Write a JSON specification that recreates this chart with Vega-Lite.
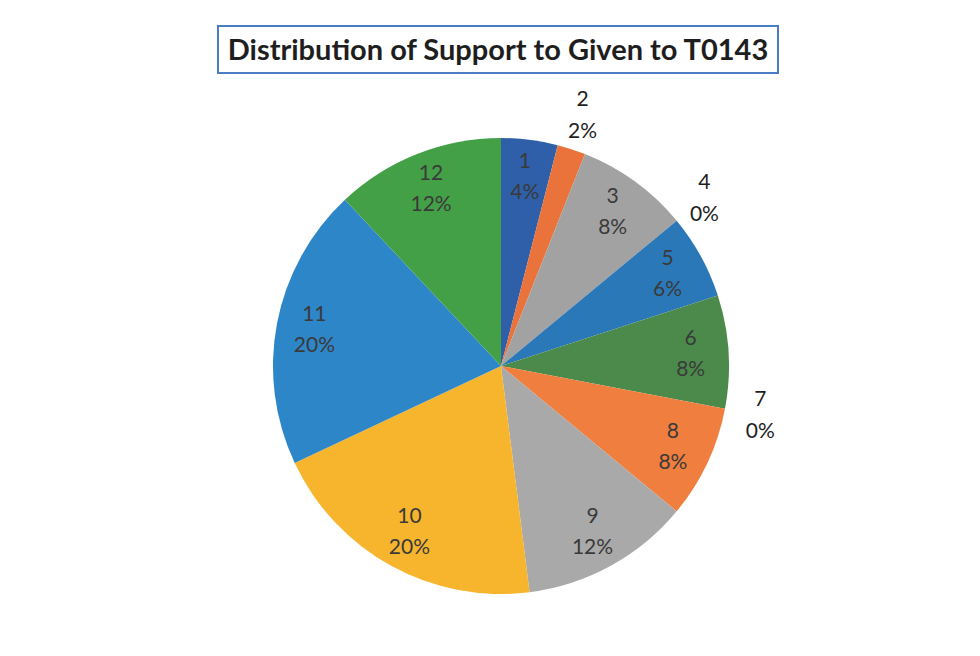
{
  "$schema": "https://vega.github.io/schema/vega-lite/v6.json",
  "background": "white",
  "padding": {"left": 217, "top": 25, "right": 0, "bottom": 0},
  "autosize": {"type": "pad"},
  "bounds": "flush",
  "spacing": 10,
  "config": {"font": "Lato"},
  "datasets": {
    "slices": [
      {"slice": 1, "share": 4},
      {"slice": 2, "share": 2},
      {"slice": 3, "share": 8},
      {"slice": 4, "share": 0},
      {"slice": 5, "share": 6},
      {"slice": 6, "share": 8},
      {"slice": 7, "share": 0},
      {"slice": 8, "share": 8},
      {"slice": 9, "share": 12},
      {"slice": 10, "share": 20},
      {"slice": 11, "share": 20},
      {"slice": 12, "share": 12}
    ]
  },
  "vconcat": [
    {
      "width": 560,
      "height": 47,
      "view": {"stroke": "#4a7ec4", "strokeWidth": 2},
      "data": {"values": [{"title": "Distribution of Support to Given to T0143"}]},
      "mark": {"type": "text", "fontSize": 29, "fontWeight": "bold", "color": "#1e1e1e", "dy": 1},
      "encoding": {"text": {"field": "title", "type": "nominal"}}
    },
    {
      "width": 566,
      "height": 566,
      "view": {"stroke": null},
      "data": {"name": "slices"},
      "transform": [
        {"calculate": "datum.slice + '\\n' + datum.share + '%'", "as": "label"}
      ],
      "encoding": {
        "theta": {"field": "share", "type": "quantitative", "stack": true},
        "order": {"field": "slice", "type": "quantitative"}
      },
      "layer": [
        {
          "mark": {"type": "arc", "outerRadius": 228},
          "encoding": {
            "color": {
              "field": "slice",
              "type": "nominal",
              "legend": null,
              "scale": {
                "domain": [1, 2, 3, 4, 5, 6, 7, 8, 9, 10, 11, 12],
                "range": ["#2E5FA8", "#E9733A", "#A2A2A2", "#FFC000", "#2B78B8", "#4C8A4C", "#264478", "#F07E3E", "#A9A9A9", "#F7B52E", "#2D86C8", "#43A047"]
              }
            }
          }
        },
        {
          "mark": {"type": "text", "radius": 190, "fontSize": 21, "lineBreak": "\n", "lineHeight": 31, "dy": -15, "color": "#3a3a3a"},
          "encoding": {
            "text": {
              "condition": {"test": "datum.share > 0 && datum.slice != 2", "field": "label", "type": "nominal"},
              "value": ""
            }
          }
        },
        {
          "mark": {"type": "text", "radius": 264, "fontSize": 21, "lineBreak": "\n", "lineHeight": 32, "dy": -15, "color": "#1e1e1e"},
          "encoding": {
            "text": {
              "condition": {"test": "datum.share == 0 || datum.slice == 2", "field": "label", "type": "nominal"},
              "value": ""
            }
          }
        }
      ]
    }
  ]
}
